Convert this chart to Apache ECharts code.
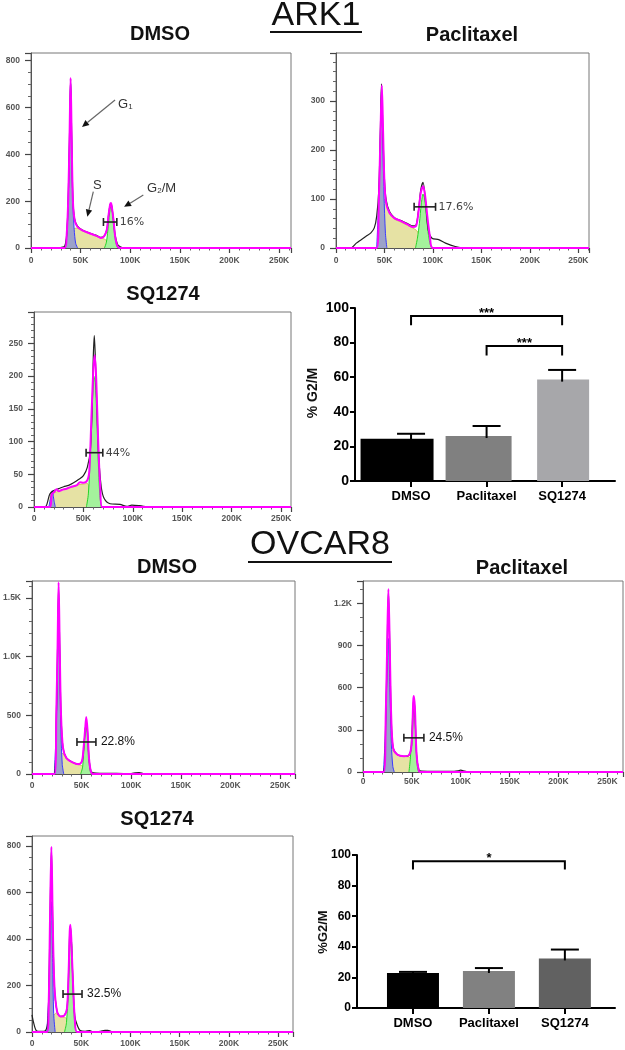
<!DOCTYPE html>
<html>
<head>
<meta charset="utf-8">
<script src="https://cdn.jsdelivr.net/npm/echarts@6/dist/echarts.min.js"></script>
<style>
  html, body { margin: 0; padding: 0; background: #fff; }
  #chart { width: 625px; height: 1050px; }
</style>
</head>
<body>
<div id="chart"></div>
<script>
// ---------- histogram data: [DNA content (K), count] ----------
// ARK1 / DMSO
const ark1DmsoRaw = [[0,0],[28,0],[31,3],[34,8],[36,60],[37.5,210],[38.9,500],[39.9,720],[40.9,500],[42.2,210],[43.9,125],[46.6,95],[51.7,77],[58.4,65],[65.2,55],[70.3,46],[73.6,50],[76.4,78],[78,135],[79.7,185],[80.6,190],[81.4,178],[83.1,121],[84.8,55],[87.2,15],[90,5],[93,0],[262,0]];
const ark1DmsoFit = [[0,0],[34,0],[36,60],[37.5,206],[38.9,491],[39.9,726],[40.9,491],[42.2,206],[43.9,121],[46.6,92],[51.7,75],[58.4,64],[65.2,53],[68,48],[70.3,43],[73.6,50],[76.4,78],[78,135],[79.7,185],[80.6,192],[81.4,178],[83.1,121],[84.8,50],[87.2,7],[90,0],[262,0]];
const ark1DmsoG1 = [[34,0],[36,50],[37.5,200],[38.9,470],[39.9,700],[40.9,470],[42.2,190],[43.5,80],[45,20],[47,0]];
const ark1DmsoS = [[39,0],[41,40],[43,80],[46,85],[51.7,73],[58.4,62],[65.2,51],[70.3,42],[74,38],[77,28],[80,12],[83,3],[85,0]];
const ark1DmsoG2 = [[74,0],[76,25],[78,100],[79.5,160],[80.6,178],[81.8,160],[83.1,105],[84.8,40],[86.5,8],[88,0]];
const ark1DmsoGate = [73, 86.5, 111];

// ARK1 / Paclitaxel
const ark1PacRaw = [[0,0],[15,0],[21,10],[26,17],[31,24],[36,31],[39.5,41],[42,65],[44.2,120],[45.9,250],[46.9,335],[48.2,250],[50,140],[51.7,99],[55.1,75],[60.2,62],[67,56],[73.8,50],[78.9,45],[82.3,46],[85,75],[87.4,118],[89.8,134],[92.5,92],[95.2,37],[99,20],[106,17],[113,10],[123,3],[131.5,0],[261,0]];
const ark1PacFit = [[0,0],[42,0],[44.2,99],[45.9,235],[47.3,332],[48.6,235],[50,133],[51.7,92],[55.1,72],[60.2,61],[67,55],[73.8,48],[78.9,43],[82.3,44],[85,72],[87.4,112],[89.8,126],[91.8,109],[94.2,65],[96.9,24],[100,0],[261,0]];
const ark1PacG1 = [[42,0],[44.5,120],[46,250],[47,320],[48,240],[49.5,110],[51,30],[52.5,0]];
const ark1PacS = [[46,0],[48,90],[50,100],[52,90],[55.1,70],[60.2,59],[67,53],[73.8,46],[78.9,41],[83,36],[86,27],[90,14],[94,4],[97,0]];
const ark1PacG2 = [[82,0],[84,20],[86,50],[88,90],[89.8,110],[91.5,100],[93.5,60],[95.5,25],[97.5,5],[99,0]];
const ark1PacGate = [80.6, 102.7, 84];

// ARK1 / SQ1274
const ark1SqRaw = [[0,0],[11,0],[16,20],[20,25],[25,28],[30,31],[35,33],[40,37],[45,42],[50,48],[54,61],[57,87],[59,158],[60,230],[61,262],[62,230],[63.5,158],[65.5,77],[68,31],[71,13],[77,5],[87,4],[94,1],[99,3],[107,2],[117.5,0],[260,0]];
const ark1SqFit = [[0,0],[16,0],[18,20],[20,22],[23,27],[25,24],[28,26],[33,28],[38,31],[43,33],[46.6,38],[50,37],[54,41],[56,56],[58,133],[60,209],[61.5,232],[63,194],[65,97],[67,31],[69,0],[260,0]];
const ark1SqG1 = [[15,0],[17,15],[18.5,25],[20,12],[21.5,0]];
const ark1SqS = [[16,0],[17,20],[20,22],[25,24],[30,27],[35,29],[40,31],[45,34],[50,35],[54,36],[56,28],[58,14],[60,4],[62,0]];
const ark1SqG2 = [[53,0],[55,20],[57,80],[59,160],[60.5,200],[62,190],[63.5,140],[65,70],[66.5,20],[68,0]];
const ark1SqGate = [52.7, 69.6, 83];

// OVCAR8 / DMSO
const ovDmsoRaw = [[0,0],[22,0],[24.5,500],[25.8,1080],[26.8,1600],[27.9,1080],[29.2,510],[31.2,224],[34.6,137],[40.3,102],[47,84],[50.3,105],[52,210],[53.7,380],[54.7,440],[56,350],[57.4,137],[59.4,25],[62,10],[70,6],[85,5],[100,4],[104,9],[108,12],[112,4],[116,0],[265,0]];
const ovDmsoFit = [[0,0],[22.8,0],[24.5,515],[25.8,1096],[26.8,1634],[27.9,1096],[29.2,515],[31.2,224],[34.6,137],[40.3,102],[47,84],[50.3,108],[52,224],[53.7,398],[54.7,485],[56,369],[57.4,137],[59.4,20],[62,0],[265,0]];
const ovDmsoG1 = [[22.5,0],[24.5,400],[25.8,1000],[26.8,1500],[27.9,1000],[29.2,350],[30.5,80],[32,0]];
const ovDmsoS = [[25.5,0],[27.5,100],[29.5,180],[31.5,170],[34.6,130],[40.3,98],[47,80],[50,72],[52,50],[54,20],[56,0]];
const ovDmsoG2 = [[49,0],[51,60],[52.5,250],[54,400],[55.5,370],[57,150],[58.5,30],[60,0]];
const ovDmsoGate = [45.3, 64.4, 273];

// OVCAR8 / Paclitaxel
const ovPacRaw = [[0,0],[20.5,0],[23.3,400],[24.7,880],[26,1290],[27.4,880],[28.8,400],[30.8,171],[35,124],[41.8,112],[46.9,119],[49.7,190],[51.4,480],[52,510],[53.1,440],[54.8,130],[57.2,15],[60,6],[75,4],[90,4],[97,8],[100,14],[104,6],[108,0],[266,0]];
const ovPacFit = [[0,0],[21.2,0],[23.3,410],[24.7,886],[26,1302],[27.4,886],[28.8,410],[30.8,171],[35,124],[41.8,112],[46.9,119],[49.7,195],[51.4,505],[52,540],[53.1,457],[54.8,124],[57.2,5],[59,0],[266,0]];
const ovPacG1 = [[21,0],[23,300],[24.5,700],[26,950],[27.5,600],[29,200],[30.5,40],[32,0]];
const ovPacS = [[25,0],[27,100],[29,150],[31,160],[35,122],[41.8,110],[46.9,108],[49,90],[51,40],[53,10],[55,0]];
const ovPacG2 = [[47,0],[48.5,100],[50,300],[51.5,450],[53,380],[54.5,150],[56,20],[57.5,0]];
const ovPacGate = [41.8, 62.3, 243];

// OVCAR8 / SQ1274
const ovSqRaw = [[0,74],[1.7,39],[4.4,6],[8.5,3],[13.6,6],[16.3,60],[18.3,480],[19.7,790],[21,480],[22.7,200],[25.4,89],[28.8,67],[32.9,72],[35.6,103],[37.3,275],[38.3,430],[39,455],[40,385],[41.7,200],[43.4,70],[45.8,31],[49,6],[54,3],[58.6,6],[62,0],[69.5,3],[74,7],[77,7],[80,3],[83,0],[265,0]];
const ovSqFit = [[0,0],[15.3,0],[17,132],[18.3,489],[19.7,797],[21,489],[22.7,203],[25.4,89],[28.8,67],[32.9,72],[35.6,103],[37.3,275],[38.3,432],[39,461],[40,389],[41.7,203],[43.4,60],[45.8,0],[265,0]];
const ovSqG1 = [[15,0],[17,150],[18.5,450],[19.7,560],[21,300],[22,80],[23.5,0]];
const ovSqS = [[19,0],[21,60],[24,80],[28.8,65],[32.9,63],[35,58],[37,40],[39,15],[41,0]];
const ovSqG2 = [[33,0],[35,40],[37,200],[38.5,380],[40,390],[41.5,220],[43,60],[44.5,5],[46,0]];
const ovSqGate = [31.5, 50.8, 163];

// phase labels and arrows on the ARK1 DMSO histogram (data coords)
const phaseLabels = [['{n|G}{s|1}', 87.7, 620], ['{n|S}', 62.5, 273], ['{n|G}{s|2}{n|/M}', 117, 261]];
const phaseArrows = [[84.7, 632, 51.4, 517], [62.8, 241, 56.8, 134], [113.2, 226, 93.8, 176]];

// ---------- bar chart data ----------
const groups = ['DMSO', 'Paclitaxel', 'SQ1274'];
const ark1Mean = [24.4, 26.0, 58.6];
const ark1Sem = [2.9, 5.8, 5.6];
const ark1Brackets = [[1, 3, 95.4, 90], [2, 3, 78, 72.5]];
const ark1Stars = ['***', '***'];
const ovMean = [22.8, 24.2, 32.4];
const ovSem = [0.8, 1.9, 5.8];
const ovBrackets = [[1, 3, 95.9, 90.5]];
const ovStars = ['*'];

// ---------- layout ----------
const ark1GateFont = { fontFamily: 'DejaVu Sans', fontSize: 11, fill: '#444', gap: 3 };
const ovGateFont = { fontFamily: 'Liberation Sans', fontSize: 12, fill: '#111', gap: 5 };

const histPanels = [
  { title: 'DMSO', tx: 160, ty: 34, box: [31, 53, 260, 195], xMax: 262, yMax: 833, yStep: 200, yMinor: 4, xMargin: 8,
    raw: ark1DmsoRaw, fit: ark1DmsoFit, g1: ark1DmsoG1, s: ark1DmsoS, g2: ark1DmsoG2, gate: ark1DmsoGate, gateText: '16%', gf: ark1GateFont },
  { title: 'Paclitaxel', tx: 472, ty: 35, box: [336, 53, 253, 195], xMax: 261, yMax: 398, yStep: 100, yMinor: 5, xMargin: 8,
    raw: ark1PacRaw, fit: ark1PacFit, g1: ark1PacG1, s: ark1PacS, g2: ark1PacG2, gate: ark1PacGate, gateText: '17.6%', gf: ark1GateFont },
  { title: 'SQ1274', tx: 163, ty: 294, box: [34, 312, 257, 195], xMax: 260, yMax: 298, yStep: 50, yMinor: 5, xMargin: 7,
    raw: ark1SqRaw, fit: ark1SqFit, g1: ark1SqG1, s: ark1SqS, g2: ark1SqG2, gate: ark1SqGate, gateText: '44%', gf: ark1GateFont },
  { title: 'DMSO', tx: 167, ty: 567, box: [32, 581, 263, 193], xMax: 265, yMax: 1645, yStep: 500, yMinor: 5, xMargin: 7,
    raw: ovDmsoRaw, fit: ovDmsoFit, g1: ovDmsoG1, s: ovDmsoS, g2: ovDmsoG2, gate: ovDmsoGate, gateText: '22.8%', gf: ovGateFont },
  { title: 'Paclitaxel', tx: 522, ty: 568, box: [363, 581, 260, 191], xMax: 266, yMax: 1359, yStep: 300, yMinor: 3, xMargin: 5,
    raw: ovPacRaw, fit: ovPacFit, g1: ovPacG1, s: ovPacS, g2: ovPacG2, gate: ovPacGate, gateText: '24.5%', gf: ovGateFont },
  { title: 'SQ1274', tx: 157, ty: 819, box: [32, 836, 261, 196], xMax: 265, yMax: 843, yStep: 200, yMinor: 4, xMargin: 7,
    raw: ovSqRaw, fit: ovSqFit, g1: ovSqG1, s: ovSqS, g2: ovSqG2, gate: ovSqGate, gateText: '32.5%', gf: ovGateFont }
];

const barPanels = [
  { box: [355, 308, 260, 173], xMin: 0.258, xMax: 3.70, mean: ark1Mean, sem: ark1Sem,
    colors: ['#000000', '#808080', '#a7a7aa'], widths: [73, 66, 52], offsets: [-14, -8, 1],
    brackets: ark1Brackets, stars: ark1Stars, yFont: 14, name: '% G2/M', nameFont: 14, nx: 313, ny: 393 },
  { box: [357, 855, 258, 153], xMin: 0.263, xMax: 3.66, mean: ovMean, sem: ovSem,
    colors: ['#000000', '#818181', '#616161'], widths: [52, 52, 52], offsets: [0, 0, 0],
    brackets: ovBrackets, stars: ovStars, yFont: 12, name: '%G2/M', nameFont: 13, nx: 323, ny: 932 }
];

const chart = echarts.init(document.getElementById('chart'), null, { renderer: 'canvas' });

const grids = [], xAxes = [], yAxes = [], series = [];

function curve(i, data, color, width, fill, z) {
  return {
    type: 'line', xAxisIndex: i, yAxisIndex: i, data: data,
    symbol: 'none', smooth: 0.3, silent: true, z: z,
    lineStyle: { color: color, width: width },
    areaStyle: fill ? { color: fill, opacity: 1 } : undefined
  };
}

const tickLabel = { fontSize: 8.5, fontWeight: 'bold', color: '#555', fontFamily: 'Liberation Sans' };

histPanels.forEach((p, i) => {
  grids.push({ left: p.box[0], top: p.box[1], width: p.box[2], height: p.box[3], outerBoundsMode: 'none',
    show: true, borderColor: '#777', borderWidth: 1, backgroundColor: '#fff' });
  xAxes.push({
    gridIndex: i, type: 'value', min: 0, max: p.xMax, interval: 50,
    axisLine: { show: true, onZero: false, lineStyle: { color: '#555', width: 1 } },
    axisTick: { show: true, length: 5, lineStyle: { color: '#444', width: 1.2 } },
    minorTick: { show: true, splitNumber: 5, length: 2.5, lineStyle: { color: '#666' } },
    splitLine: { show: false },
    axisLabel: Object.assign({ margin: p.xMargin, showMaxLabel: false,
      formatter: v => v === 0 ? '0' : v + 'K' }, tickLabel)
  });
  yAxes.push({
    gridIndex: i, type: 'value', min: 0, max: p.yMax, interval: p.yStep,
    axisLine: { show: true, lineStyle: { color: '#555', width: 1 } },
    axisTick: { show: true, length: 6, lineStyle: { color: '#444', width: 1.2 } },
    minorTick: { show: true, splitNumber: p.yMinor, length: 3, lineStyle: { color: '#666' } },
    splitLine: { show: false },
    axisLabel: Object.assign({ margin: 11, showMaxLabel: false,
      formatter: v => v >= 1000 ? (v / 1000).toFixed(1) + 'K' : String(v) }, tickLabel)
  });
  series.push(curve(i, p.s, '#cfc35c', 1, '#e6e2a4', 2));
  series.push(curve(i, p.g2, '#27d327', 1, '#a4f29c', 3));
  series.push(curve(i, p.g1, '#3a3aff', 1, '#9ca2c9', 4));
  series.push(curve(i, p.raw, '#222', 1.2, null, 5));
  series.push(curve(i, p.fit, '#ff00ff', 2, null, 6));
  // gate marker with its percentage
  series.push({
    type: 'custom', xAxisIndex: i, yAxisIndex: i, data: [p.gate], z: 10, silent: true,
    renderItem: (params, api) => {
      const a = api.coord([api.value(0), api.value(2)]);
      const b = api.coord([api.value(1), api.value(2)]);
      const st = { stroke: '#222', lineWidth: 1.6 };
      return { type: 'group', children: [
        { type: 'line', shape: { x1: a[0], y1: a[1], x2: b[0], y2: b[1] }, style: st },
        { type: 'line', shape: { x1: a[0], y1: a[1] - 4, x2: a[0], y2: a[1] + 4 }, style: st },
        { type: 'line', shape: { x1: b[0], y1: b[1] - 4, x2: b[0], y2: b[1] + 4 }, style: st },
        { type: 'text', x: b[0] + p.gf.gap, y: b[1],
          style: { text: p.gateText, fontFamily: p.gf.fontFamily, fontSize: p.gf.fontSize, fill: p.gf.fill,
            align: 'left', verticalAlign: 'middle' } }
      ] };
    }
  });
});

barPanels.forEach((b, k) => {
  const i = histPanels.length + k;
  grids.push({ left: b.box[0], top: b.box[1], width: b.box[2], height: b.box[3], outerBoundsMode: 'none' });
  xAxes.push({
    gridIndex: i, type: 'value', min: b.xMin, max: b.xMax,
    axisLine: { show: true, onZero: false, lineStyle: { color: '#000', width: 2 } },
    axisTick: { show: true, customValues: [1, 2, 3], length: 6, lineStyle: { color: '#000', width: 2 } },
    splitLine: { show: false },
    axisLabel: { customValues: [1, 2, 3], margin: 9, fontSize: 13, fontWeight: 'bold', color: '#000',
      fontFamily: 'Liberation Sans', formatter: v => groups[Math.round(v) - 1] || '' }
  });
  yAxes.push({
    gridIndex: i, type: 'value', min: 0, max: 100, interval: 20,
    axisLine: { show: true, lineStyle: { color: '#000', width: 2 } },
    axisTick: { show: true, length: 5, lineStyle: { color: '#000', width: 2 } },
    splitLine: { show: false },
    axisLabel: { margin: 6, fontSize: b.yFont, fontWeight: 'bold', color: '#000', fontFamily: 'Liberation Sans' }
  });
  // bars
  series.push({
    type: 'custom', xAxisIndex: i, yAxisIndex: i, silent: true, z: 2,
    data: b.mean.map((m, j) => [j + 1, m]),
    renderItem: (params, api) => {
      const j = params.dataIndex;
      const top = api.coord([api.value(0), api.value(1)]);
      const base = api.coord([api.value(0), 0]);
      const w = b.widths[j];
      return { type: 'rect', shape: { x: top[0] + b.offsets[j] - w / 2, y: top[1], width: w, height: base[1] - top[1] },
        style: { fill: b.colors[j] } };
    }
  });
  // error bars (SEM, upper only)
  series.push({
    type: 'custom', xAxisIndex: i, yAxisIndex: i, silent: true, z: 3,
    data: b.mean.map((m, j) => [j + 1, m, m + b.sem[j]]),
    renderItem: (params, api) => {
      const lo = api.coord([api.value(0), api.value(1)]);
      const hi = api.coord([api.value(0), api.value(2)]);
      const st = { stroke: '#000', lineWidth: 2 };
      return { type: 'group', children: [
        { type: 'line', shape: { x1: lo[0], y1: lo[1] + 2, x2: hi[0], y2: hi[1] }, style: st },
        { type: 'line', shape: { x1: hi[0] - 14, y1: hi[1], x2: hi[0] + 14, y2: hi[1] }, style: st }
      ] };
    }
  });
  // significance brackets
  series.push({
    type: 'custom', xAxisIndex: i, yAxisIndex: i, silent: true, z: 4,
    data: b.brackets,
    renderItem: (params, api) => {
      const l = api.coord([api.value(0), api.value(3)]);
      const lt = api.coord([api.value(0), api.value(2)]);
      const rt = api.coord([api.value(1), api.value(2)]);
      const r = api.coord([api.value(1), api.value(3)]);
      return { type: 'group', children: [
        { type: 'polyline', shape: { points: [l, lt, rt, r] }, style: { stroke: '#000', lineWidth: 2, fill: null } },
        { type: 'text', x: (lt[0] + rt[0]) / 2, y: lt[1] - 3,
          style: { text: b.stars[params.dataIndex], fontFamily: 'Liberation Sans', fontWeight: 'bold', fontSize: 13,
            fill: '#000', align: 'center', verticalAlign: 'middle' } }
      ] };
    }
  });
});

chart.setOption({
  animation: false,
  backgroundColor: '#fff',
  grid: grids, xAxis: xAxes, yAxis: yAxes, series: series
});

// ---------- text and annotations ----------
const gfx = [];
function addText(text, x, y, font, extra) {
  gfx.push(Object.assign({ type: 'text', x: x, y: y, z: 100,
    style: { text: text, font: font, fill: '#111', align: 'center', verticalAlign: 'middle' } }, extra || {}));
}
addText('ARK1', 316, 16, '34px "Liberation Sans"');
gfx.push({ type: 'line', z: 100, shape: { x1: 270, y1: 32, x2: 362, y2: 32 }, style: { stroke: '#111', lineWidth: 2 } });
addText('OVCAR8', 320, 545, '34px "Liberation Sans"');
gfx.push({ type: 'line', z: 100, shape: { x1: 248, y1: 562, x2: 392, y2: 562 }, style: { stroke: '#111', lineWidth: 2 } });

histPanels.forEach(p => addText(p.title, p.tx, p.ty, 'bold 20px "Liberation Sans"'));
barPanels.forEach(b => addText(b.name, b.nx, b.ny, 'bold ' + b.nameFont + 'px "Liberation Sans"', { rotation: Math.PI / 2 }));

phaseLabels.forEach(l => {
  const pt = chart.convertToPixel({ xAxisIndex: 0, yAxisIndex: 0 }, [l[1], l[2]]);
  gfx.push({ type: 'text', x: pt[0], y: pt[1], z: 100,
    style: { text: l[0], align: 'left', verticalAlign: 'middle',
      rich: { n: { fontSize: 13, fontFamily: 'Liberation Sans', fill: '#333', lineHeight: 16, verticalAlign: 'bottom' },
              s: { fontSize: 8, fontFamily: 'Liberation Sans', fill: '#333', lineHeight: 12, verticalAlign: 'bottom' } } } });
});
phaseArrows.forEach(a => {
  const p0 = chart.convertToPixel({ xAxisIndex: 0, yAxisIndex: 0 }, [a[0], a[1]]);
  const p1 = chart.convertToPixel({ xAxisIndex: 0, yAxisIndex: 0 }, [a[2], a[3]]);
  const ang = Math.atan2(p1[1] - p0[1], p1[0] - p0[0]);
  const L = 7, H = 3.2;
  const bx = p1[0] - L * Math.cos(ang), by = p1[1] - L * Math.sin(ang);
  gfx.push({ type: 'line', z: 100, shape: { x1: p0[0], y1: p0[1], x2: bx, y2: by }, style: { stroke: '#666', lineWidth: 1.2 } });
  gfx.push({ type: 'polygon', z: 100, shape: { points: [
    [p1[0], p1[1]],
    [bx + H * Math.sin(ang), by - H * Math.cos(ang)],
    [bx - H * Math.sin(ang), by + H * Math.cos(ang)]
  ] }, style: { fill: '#111' } });
});

chart.setOption({ graphic: gfx });
</script>
</body>
</html>
